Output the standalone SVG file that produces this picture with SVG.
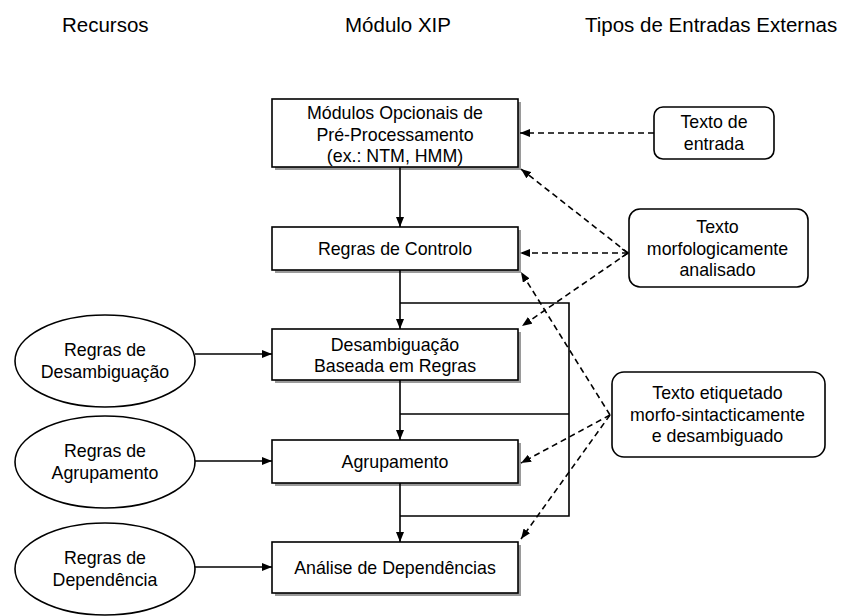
<svg xmlns="http://www.w3.org/2000/svg" width="845" height="616" viewBox="0 0 845 616">
  <style>
    text { font-family: "Liberation Sans", Arial, sans-serif; fill: #000; text-anchor: middle; }
    .hdr { font-size: 20.5px; text-anchor: start; }
    .lbl { font-size: 17.8px; }
    .box { fill: #fff; stroke: #000; stroke-width: 1.6; }
    .shadow { fill: #9a9a9a; }
    .ext { fill: #fff; stroke: #000; stroke-width: 1.6; }
    .res { fill: #fff; stroke: #000; stroke-width: 1.6; }
    .flow { fill: none; stroke: #000; stroke-width: 1.6; }
    .feed { fill: none; stroke: #000; stroke-width: 1.6; stroke-dasharray: 6 4; }
  </style>
  <defs>
    <marker id="arrow" markerUnits="userSpaceOnUse" markerWidth="10" markerHeight="8" refX="10" refY="4" orient="auto">
      <path d="M0,0 L10,4 L0,8 z" fill="#000"/>
    </marker>
  </defs>

  <!-- column headings -->
  <g id="headings">
    <text class="hdr" x="62" y="32">Recursos</text>
    <text class="hdr" x="345" y="32">Módulo XIP</text>
    <text class="hdr" x="585" y="32">Tipos de Entradas Externas</text>
  </g>

  <!-- XIP processing stages -->
  <g id="pre-processamento">
    <rect class="shadow" x="275" y="102" width="246" height="68"/>
    <rect class="box" x="272" y="99" width="246" height="68"/>
    <text class="lbl" x="395" y="119">Módulos Opcionais de</text>
    <text class="lbl" x="395" y="140.5">Pré-Processamento</text>
    <text class="lbl" x="395" y="162">(ex.: NTM, HMM)</text>
  </g>
  <g id="regras-controlo">
    <rect class="shadow" x="275" y="230" width="246" height="43"/>
    <rect class="box" x="272" y="227" width="246" height="43"/>
    <text class="lbl" x="395" y="255">Regras de Controlo</text>
  </g>
  <g id="desambiguacao">
    <rect class="shadow" x="275" y="332" width="246" height="51"/>
    <rect class="box" x="272" y="329" width="246" height="51"/>
    <text class="lbl" x="395" y="350.5">Desambiguação</text>
    <text class="lbl" x="395" y="372">Baseada em Regras</text>
  </g>
  <g id="agrupamento">
    <rect class="shadow" x="275" y="443" width="246" height="43"/>
    <rect class="box" x="272" y="440" width="246" height="43"/>
    <text class="lbl" x="395" y="468">Agrupamento</text>
  </g>
  <g id="analise-dependencias">
    <rect class="shadow" x="275" y="545" width="246" height="51"/>
    <rect class="box" x="272" y="542" width="246" height="51"/>
    <text class="lbl" x="395" y="574">Análise de Dependências</text>
  </g>

  <!-- resources -->
  <g id="res-desambiguacao">
    <ellipse class="res" cx="105" cy="361" rx="90" ry="46"/>
    <text class="lbl" x="105" y="356">Regras de</text>
    <text class="lbl" x="105" y="377.5">Desambiguação</text>
  </g>
  <g id="res-agrupamento">
    <ellipse class="res" cx="105" cy="462" rx="90" ry="46"/>
    <text class="lbl" x="105" y="457">Regras de</text>
    <text class="lbl" x="105" y="478.5">Agrupamento</text>
  </g>
  <g id="res-dependencia">
    <ellipse class="res" cx="105" cy="569" rx="90" ry="46"/>
    <text class="lbl" x="105" y="564">Regras de</text>
    <text class="lbl" x="105" y="585.5">Dependência</text>
  </g>

  <!-- external inputs -->
  <g id="in-texto-entrada">
    <rect class="ext" x="654" y="107" width="120" height="52" rx="9"/>
    <text class="lbl" x="714" y="128">Texto de</text>
    <text class="lbl" x="714" y="149.5">entrada</text>
  </g>
  <g id="in-morfologico">
    <rect class="ext" x="629" y="209" width="179" height="78" rx="11"/>
    <text class="lbl" x="717.5" y="233">Texto</text>
    <text class="lbl" x="717.5" y="254.5">morfologicamente</text>
    <text class="lbl" x="717.5" y="276">analisado</text>
  </g>
  <g id="in-etiquetado">
    <rect class="ext" x="612" y="372" width="213" height="85" rx="12"/>
    <text class="lbl" x="717.5" y="399">Texto etiquetado</text>
    <text class="lbl" x="717.5" y="420.5">morfo-sintacticamente</text>
    <text class="lbl" x="717.5" y="442">e desambiguado</text>
  </g>

  <!-- connectors -->
  <g id="connectors">
    <!-- main processing flow -->
    <line class="flow" x1="400" y1="167" x2="400" y2="227" marker-end="url(#arrow)"/>
    <line class="flow" x1="400" y1="270" x2="400" y2="329" marker-end="url(#arrow)"/>
    <line class="flow" x1="400" y1="380" x2="400" y2="440" marker-end="url(#arrow)"/>
    <line class="flow" x1="400" y1="483" x2="400" y2="542" marker-end="url(#arrow)"/>
    <!-- control rules bus -->
    <polyline class="flow" points="400,303 569,303 569,516 400,516"/>
    <line class="flow" x1="400" y1="414" x2="569" y2="414"/>
    <!-- resources into stages -->
    <line class="flow" x1="195" y1="354" x2="272" y2="354" marker-end="url(#arrow)"/>
    <line class="flow" x1="195" y1="461" x2="272" y2="461" marker-end="url(#arrow)"/>
    <line class="flow" x1="195" y1="567" x2="272" y2="567" marker-end="url(#arrow)"/>
    <!-- external inputs -->
    <line class="feed" x1="654" y1="133" x2="520" y2="133" marker-end="url(#arrow)"/>
    <line class="feed" x1="628" y1="253" x2="521" y2="169" marker-end="url(#arrow)"/>
    <line class="feed" x1="628" y1="253" x2="520" y2="253" marker-end="url(#arrow)"/>
    <path d="M622,249 L628,253 L622,257" fill="none" stroke="#000" stroke-width="1.4"/>
    <line class="feed" x1="628" y1="253" x2="522" y2="326" marker-end="url(#arrow)"/>
    <line class="feed" x1="610" y1="415" x2="521" y2="272" marker-end="url(#arrow)"/>
    <line class="feed" x1="610" y1="415" x2="521" y2="463" marker-end="url(#arrow)"/>
    <line class="feed" x1="610" y1="415" x2="521" y2="539" marker-end="url(#arrow)"/>
  </g>
</svg>
